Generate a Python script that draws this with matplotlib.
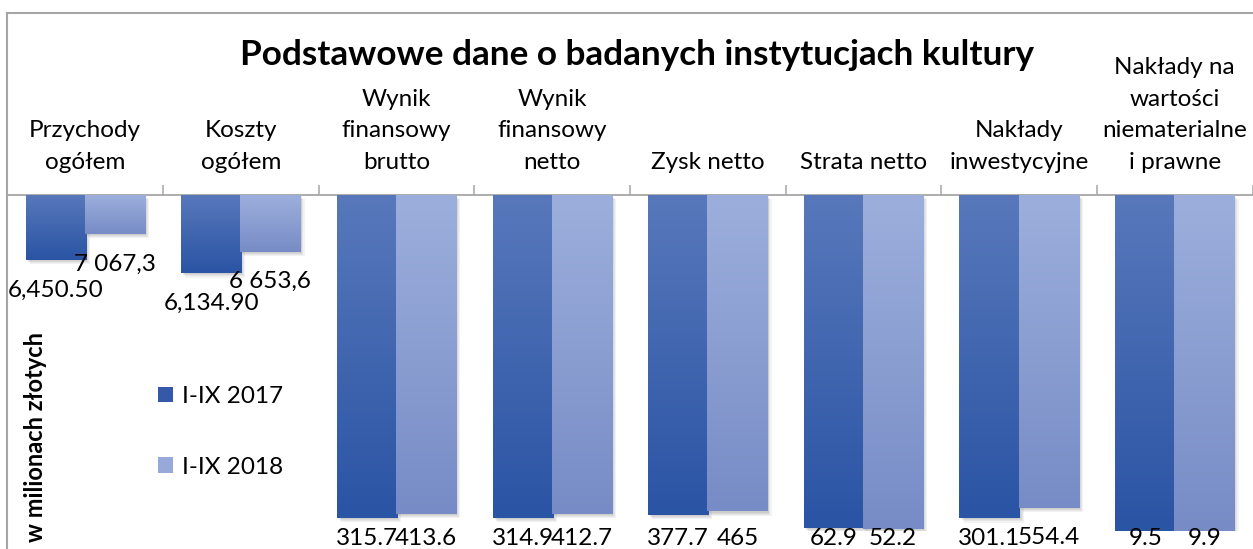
import numpy as np
import matplotlib
matplotlib.use('Agg')
import matplotlib.pyplot as plt
from matplotlib.colors import LinearSegmentedColormap
from matplotlib.patches import Patch
from matplotlib.lines import Line2D
import matplotlib.patheffects as pe

plt.rcParams['font.family'] = ['Lato', 'DejaVu Sans']

# data
categories = ['Przychody\nogółem', 'Koszty\nogółem', 'Wynik\nfinansowy\nbrutto',
              'Wynik\nfinansowy\nnetto', 'Zysk netto', 'Strata netto',
              'Nakłady\ninwestycyjne', 'Nakłady na\nwartości\nniematerialne\ni prawne']
v2017 = [6450.5, 6134.9, 315.7, 314.9, 377.7, 62.9, 301.1, 9.5]
v2018 = [7067.3, 6653.6, 413.6, 412.7, 465.0, 52.2, 554.4, 9.9]
labels2017 = ['6,450.50', '6,134.90', '315.7', '314.9', '377.7', '62.9', '301.1', '9.5']
labels2018 = ['7 067,3', '6 653,6', '413.6', '412.7', '465', '52.2', '554.4', '9.9']
series = ['I-IX 2017', 'I-IX 2018']
y_top = 8000  # horizontal axis crosses at maximum

W, H = 1253, 549
fig = plt.figure(figsize=(W / 100, H / 100), dpi=100)
ax_left, ax_right = 7.3, 1252.6
ax_top, ax_zero = 195, 531
ax = fig.add_axes([ax_left / W, 1 - ax_zero / H, (ax_right - ax_left) / W, (ax_zero - ax_top) / H])
upp = y_top / (ax_zero - ax_top)  # data units per pixel

x = np.arange(len(categories))
bw = 0.386
off = 0.19
grads = [('#5878BB', '#2A54A4'), ('#9CAFDC', '#778CC6')]
shadow = [pe.SimplePatchShadow(offset=(k, -k), shadow_rgbFace='#000000', alpha=0.05)
          for k in (3.0, 2.2, 1.5, 0.8)] + [pe.Normal()]

for s, (vals, (c_top, c_bot), labs) in enumerate(zip([v2017, v2018], grads, [labels2017, labels2018])):
    xs = x + (off if s else -off)
    bars = ax.bar(xs, [y_top - v for v in vals], bottom=vals, width=bw,
                  color=c_bot, zorder=3, path_effects=shadow)
    cmap = LinearSegmentedColormap.from_list('g%d' % s, [c_top, c_bot])
    grad = np.linspace(0, 1, 256).reshape(-1, 1)
    for b, xi, v, lab in zip(bars, xs, vals, labs):
        im = ax.imshow(grad, extent=[xi - bw / 2, xi + bw / 2, v, y_top], aspect='auto',
                       cmap=cmap, origin='upper', zorder=3.1)
        im.set_clip_path(b)
        y_lab = max(v - 30 * upp, -7.5 * upp)
        ax.text(xi, y_lab, lab, ha='center', va='center', fontsize=17.5, color='#000000',
                zorder=5)

ax.set_xlim(-0.5, len(categories) - 0.5)
ax.set_ylim(0, y_top)

for side in ['left', 'right', 'bottom']:
    ax.spines[side].set_visible(False)
ax.spines['top'].set_color('#A6A6A6')
ax.spines['top'].set_linewidth(1.3)
ax.set_yticks([])
ax.set_xticks([])
ax.set_xticks(np.arange(0.5, len(categories)), minor=True)
ax.tick_params(axis='x', which='minor', top=True, bottom=False, direction='out',
               length=7.5, width=1.1, color='#A6A6A6', labeltop=False, labelbottom=False)

for i, cat in enumerate(categories):
    ax.annotate(cat, xy=(i, 1), xycoords=('data', 'axes fraction'), xytext=(0, 22),
                textcoords='offset pixels', ha='center', va='bottom', fontsize=17.5,
                linespacing=1.62, color='#000000', annotation_clip=False)

# chart area border
fig.add_artist(Line2D([7 / W, 1], [1 - 13 / H, 1 - 13 / H], transform=fig.transFigure,
                      color='#A6A6A6', lw=1.5))
fig.add_artist(Line2D([7 / W, 7 / W], [0, 1 - 13 / H], transform=fig.transFigure,
                      color='#A6A6A6', lw=1.5))

fig.text(636.5 / W, 1 - 55 / H, 'Podstawowe dane o badanych instytucjach kultury',
         ha='center', va='center', fontsize=25.3, fontweight='bold')
fig.text(36 / W, 1 - 437 / H, 'w milionach złotych', rotation=90, ha='center', va='center',
         fontsize=17, fontweight='bold')

handles = [Patch(facecolor='#3559A8'), Patch(facecolor='#97A9D8')]
fig.legend(handles, series, loc='center left', bbox_to_anchor=(158 / W, 1 - 432 / H),
           bbox_transform=fig.transFigure, frameon=False, fontsize=17.5,
           handlelength=0.62, handleheight=0.62, handletextpad=0.35, labelspacing=2.05,
           borderpad=0, borderaxespad=0)

fig.savefig('out.png', dpi=100)
